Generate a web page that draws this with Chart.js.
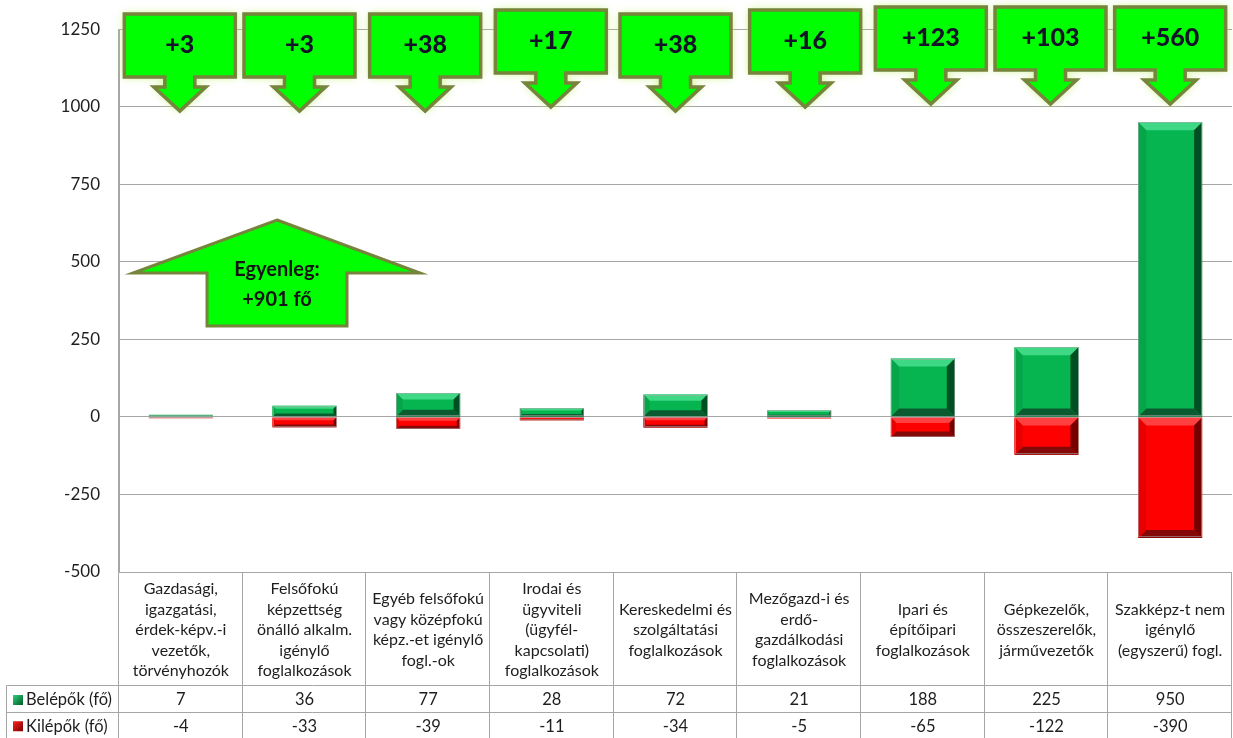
<!DOCTYPE html>
<html><head><meta charset="utf-8">
<script src="https://cdn.jsdelivr.net/npm/chart.js@4.4.0/dist/chart.umd.min.js"></script>
<style>html,body{margin:0;padding:0;background:#fff}#wrap{width:1233px;height:738px;position:relative}</style>
</head><body><div id="wrap"><canvas id="c" width="1233" height="738"></canvas></div>
<script>
// ---- data ----
const categories = [
  ["Gazdasági,","igazgatási,","érdek-képv.-i","vezetők,","törvényhozók"],
  ["Felsőfokú","képzettség","önálló alkalm.","igénylő","foglalkozások"],
  ["Egyéb felsőfokú","vagy középfokú","képz.-et igénylő","fogl.-ok"],
  ["Irodai és","ügyviteli","(ügyfél-","kapcsolati)","foglalkozások"],
  ["Kereskedelmi és","szolgáltatási","foglalkozások"],
  ["Mezőgazd-i és","erdő-","gazdálkodási","foglalkozások"],
  ["Ipari és","építőipari","foglalkozások"],
  ["Gépkezelők,","összeszerelők,","járművezetők"],
  ["Szakképz-t nem","igénylő","(egyszerű) fogl."]
];
const entrants = [7, 36, 77, 28, 72, 21, 188, 225, 950];
const leavers  = [-4, -33, -39, -11, -34, -5, -65, -122, -390];
const balanceLabels = ["+3","+3","+38","+17","+38","+16","+123","+103","+560"];
const totalLabel = ["Egyenleg:", "+901 fő"];
const seriesNames = ["Belépők (fő)", "Kilépők (fő)"];
const yMin = -500, yMax = 1250, yStep = 250;

// ---- styling (not data) ----
const calloutDx  = [-1, -5, -3, -1, 0, 6, 8, 4, 0];
const calloutTop = [14, 14, 14, 10, 14, 10, 7, 7, 7];
const FONT = "Lato, 'Open Sans', sans-serif";
const GRID = '#a6a6a6';
const bevelColors = [
  {base:'#06B450', top:'#3FD985', left:'#07A54A', right:'#004F22', bottom:'#0A5C30'},
  {base:'#FF0000', top:'#FF4040', left:'#E60000', right:'#760000', bottom:'#850808'}
];

const bevelPlugin = {
  id: 'bevel',
  afterDatasetsDraw(chart) {
    const ctx = chart.ctx;
    chart.data.datasets.forEach((ds, di) => {
      const meta = chart.getDatasetMeta(di);
      const col = bevelColors[di];
      meta.data.forEach(el => {
        const p = el.getProps(['x','y','base','width'], true);
        const l = p.x - p.width/2, r = p.x + p.width/2;
        const t = Math.min(p.y, p.base), b = Math.max(p.y, p.base);
        const h = b - t;
        const bv = Math.min(8, h * 0.28);
        ctx.save();
        const poly = (pts, c) => { ctx.beginPath(); ctx.moveTo(pts[0][0], pts[0][1]); for (let i=1;i<pts.length;i++) ctx.lineTo(pts[i][0], pts[i][1]); ctx.closePath(); ctx.fillStyle=c; ctx.fill(); };
        if (bv > 0.6) {
          poly([[l,t],[r,t],[r-bv,t+bv],[l+bv,t+bv]], col.top);
          poly([[l,b],[r,b],[r-bv,b-bv],[l+bv,b-bv]], col.bottom);
          poly([[l,t],[l+bv,t+bv],[l+bv,b-bv],[l,b]], col.left);
          poly([[r,t],[r-bv,t+bv],[r-bv,b-bv],[r,b]], col.right);
        }
        ctx.strokeStyle = 'rgba(170,170,170,0.55)';
        ctx.lineWidth = 1;
        ctx.strokeRect(Math.round(l)+0.5, Math.round(t)+0.5, Math.round(r-l)-1, Math.max(0, Math.round(h)-1));
        ctx.restore();
      });
    });
  }
};

function calloutPath(ctx, cx, top) {
  const hw = 55.5, bh = 63, sw = 15, sh = 10, hh = 26, ah = 24;
  ctx.beginPath();
  ctx.moveTo(cx-hw, top);
  ctx.lineTo(cx+hw, top);
  ctx.lineTo(cx+hw, top+bh);
  ctx.lineTo(cx+sw, top+bh);
  ctx.lineTo(cx+sw, top+bh+sh);
  ctx.lineTo(cx+hh, top+bh+sh);
  ctx.lineTo(cx, top+bh+sh+ah);
  ctx.lineTo(cx-hh, top+bh+sh);
  ctx.lineTo(cx-sw, top+bh+sh);
  ctx.lineTo(cx-sw, top+bh);
  ctx.lineTo(cx-hw, top+bh);
  ctx.closePath();
}

const annotPlugin = {
  id: 'annot',
  afterDraw(chart) {
    const ctx = chart.ctx;
    const xs = chart.scales.x, ys = chart.scales.y;
    const area = chart.chartArea;
    // ---- table ----
    ctx.save();
    ctx.strokeStyle = GRID; ctx.lineWidth = 1;
    const yTop = Math.round(ys.getPixelForValue(yMin)) + 0.5;
    const row1 = 685.5, row2 = 712.5, yBot = 738;
    const n = categories.length;
    const colW = (area.right - area.left) / n;
    const edges = [];
    for (let i = 0; i <= n; i++) edges.push(Math.round(area.left + i*colW) - 0.5);
    ctx.beginPath();
    edges.forEach(x => { ctx.moveTo(x, yTop); ctx.lineTo(x, yBot); });
    ctx.moveTo(6.5, row1); ctx.lineTo(edges[n], row1);
    ctx.moveTo(6.5, row2); ctx.lineTo(edges[n], row2);
    ctx.moveTo(6.5, row1); ctx.lineTo(6.5, yBot);
    ctx.moveTo(edges[0], area.top); ctx.lineTo(edges[0], yTop);
    ctx.stroke();
    // category labels
    ctx.fillStyle = '#1e1e1e';
    ctx.textAlign = 'center'; ctx.textBaseline = 'middle';
    ctx.font = "16px " + FONT;
    const lh = 20.5, cellMid = (yTop + row1) / 2 + 1;
    categories.forEach((lines, i) => {
      const cx = xs.getPixelForValue(i);
      const start = cellMid - (lines.length - 1) * lh / 2;
      lines.forEach((s, k) => ctx.fillText(s, cx, start + k*lh));
    });
    // values
    ctx.font = "16.5px " + FONT;
    entrants.forEach((v, i) => ctx.fillText(String(v), xs.getPixelForValue(i), (row1+row2)/2 + 1));
    leavers.forEach((v, i) => ctx.fillText(String(v), xs.getPixelForValue(i), (row2+yBot)/2 + 1));
    // legend keys
    ctx.textAlign = 'left';
    [[row1, row2, 0], [row2, yBot, 1]].forEach(([a, b, d]) => {
      const my = (a + b) / 2 + 1;
      const g = ctx.createLinearGradient(13, my-5, 23, my+5);
      g.addColorStop(0, d ? '#ff2020' : '#2fd07a');
      g.addColorStop(1, d ? '#7a0000' : '#005a28');
      ctx.fillStyle = g;
      ctx.fillRect(13, my-5, 10, 10);
      ctx.fillStyle = '#1e1e1e';
      ctx.fillText(seriesNames[d], 26, my);
    });
    ctx.restore();

    // ---- callouts ----
    ctx.save();
    balanceLabels.forEach((lab, i) => {
      const cx = xs.getPixelForValue(i) + calloutDx[i];
      const top = calloutTop[i];
      ctx.save();
      ctx.shadowColor = 'rgba(190,240,110,0.95)';
      ctx.shadowBlur = 9;
      calloutPath(ctx, cx, top);
      ctx.fillStyle = '#00FF00';
      ctx.fill();
      ctx.restore();
      calloutPath(ctx, cx, top);
      ctx.lineWidth = 3.5;
      ctx.lineJoin = 'miter';
      ctx.strokeStyle = '#76843C';
      ctx.stroke();
      ctx.fillStyle = '#141428';
      ctx.font = "900 25px " + FONT;
      ctx.textAlign = 'center'; ctx.textBaseline = 'middle';
      ctx.fillText(lab, cx, top + 31);
    });
    ctx.restore();

    // ---- big balance arrow ----
    ctx.save();
    const tipX = area.left + 158, tipY = 220;
    ctx.beginPath();
    ctx.moveTo(tipX, tipY);
    ctx.lineTo(tipX + 143, 273);
    ctx.lineTo(tipX + 70, 273);
    ctx.lineTo(tipX + 70, 326);
    ctx.lineTo(tipX - 70, 326);
    ctx.lineTo(tipX - 70, 273);
    ctx.lineTo(tipX - 144, 273);
    ctx.closePath();
    ctx.fillStyle = '#00FF00';
    ctx.fill();
    ctx.lineWidth = 3;
    ctx.strokeStyle = '#76843C';
    ctx.stroke();
    ctx.fillStyle = '#141414';
    ctx.font = "bold 20px " + FONT;
    ctx.textAlign = 'center'; ctx.textBaseline = 'middle';
    ctx.fillText(totalLabel[0], tipX, 270);
    ctx.fillText(totalLabel[1], tipX, 300);
    ctx.restore();
  }
};

new Chart(document.getElementById('c'), {
  type: 'bar',
  data: {
    labels: categories,
    datasets: [
      { label: seriesNames[0], data: entrants, backgroundColor: bevelColors[0].base, borderWidth: 0 },
      { label: seriesNames[1], data: leavers, backgroundColor: bevelColors[1].base, borderWidth: 0 }
    ]
  },
  options: {
    responsive: false,
    animation: false,
    events: [],
    layout: { padding: { top: 26, bottom: 166, left: 0, right: 1 } },
    datasets: { bar: { categoryPercentage: 1.0, barPercentage: 0.517 } },
    plugins: { legend: { display: false }, tooltip: { enabled: false } },
    scales: {
      x: { stacked: true, display: false },
      y: {
        stacked: true, min: yMin, max: yMax,
        afterFit(s) { s.width = 119; },
        ticks: { stepSize: yStep, padding: 19, color: '#1e1e1e', font: { family: FONT, size: 17 },
                 callback: (v) => String(v) },
        grid: { color: GRID, drawTicks: false },
        border: { color: GRID }
      }
    }
  },
  plugins: [bevelPlugin, annotPlugin]
});
</script>
</body></html>
